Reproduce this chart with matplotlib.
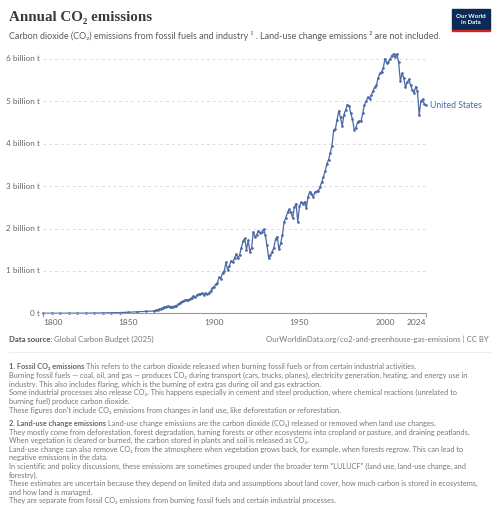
import matplotlib
matplotlib.use('Agg')
import matplotlib.pyplot as plt
from matplotlib.patches import Rectangle

plt.rcParams['font.family'] = ['Lato', 'DejaVu Sans']

# annual CO2 emissions of the United States, billion tonnes
years = [1800, 1805, 1810, 1815, 1820, 1825, 1830, 1835, 1840, 1845, 1850, 1855, 1860,
         1865, 1866, 1867, 1868, 1869] + list(range(1870, 2025))
emissions = [0.0003, 0.0005, 0.001, 0.0015, 0.002, 0.003, 0.005, 0.008, 0.012, 0.018, 0.025, 0.035, 0.045,
             0.055, 0.07, 0.08, 0.09, 0.11,
             # 1870s
             0.13, 0.15, 0.16, 0.17, 0.16, 0.16, 0.16, 0.17, 0.18, 0.21,
             # 1880s
             0.24, 0.27, 0.29, 0.31, 0.32, 0.32, 0.34, 0.37, 0.41, 0.38,
             # 1890s
             0.43, 0.45, 0.46, 0.47, 0.43, 0.47, 0.46, 0.48, 0.52, 0.59,
             # 1900s
             0.63, 0.68, 0.72, 0.85, 0.82, 0.95, 1.00, 1.20, 1.02, 1.12,
             # 1910s
             1.24, 1.20, 1.30, 1.40, 1.30, 1.38, 1.55, 1.70, 1.77, 1.50,
             # 1920s
             1.72, 1.45, 1.55, 1.92, 1.80, 1.85, 1.95, 1.90, 1.92, 1.98,
             # 1930s
             1.85, 1.60, 1.30, 1.38, 1.45, 1.55, 1.75, 1.81, 1.51, 1.65,
             # 1940s
             1.85, 2.15, 2.25, 2.38, 2.45, 2.38, 2.25, 2.50, 2.59, 2.16,
             # 1950s
             2.52, 2.62, 2.58, 2.63, 2.48, 2.75, 2.87, 2.82, 2.75, 2.85,
             # 1960s
             2.88, 2.88, 2.98, 3.10, 3.22, 3.35, 3.52, 3.62, 3.78, 3.95,
             # 1970s
             4.32, 4.35, 4.56, 4.78, 4.62, 4.42, 4.68, 4.80, 4.92, 4.90,
             # 1980s
             4.72, 4.58, 4.33, 4.38, 4.52, 4.54, 4.53, 4.72, 4.92, 5.00,
             # 1990s
             5.10, 5.06, 5.14, 5.25, 5.33, 5.38, 5.55, 5.66, 5.70, 5.78,
             # 2000s
             6.01, 5.90, 5.94, 5.99, 6.08, 6.12, 6.04, 6.12, 5.92, 5.48,
             # 2010s
             5.66, 5.55, 5.33, 5.45, 5.52, 5.38, 5.27, 5.20, 5.35, 5.24,
             # 2020s
             4.68, 5.00, 5.05, 4.93, 4.91]

y_ticks = [0, 1, 2, 3, 4, 5, 6]
y_labels = ['0 t', '1 billion t', '2 billion t', '3 billion t', '4 billion t', '5 billion t', '6 billion t']
x_ticks = [1800, 1850, 1900, 1950, 2000, 2024]

line_col = '#4a69a6'
grey = '#5b5b5b'

fig = plt.figure(figsize=(5, 5.17), dpi=100)
W, H = 500, 517
def fy(py):
    return 1 - py / H

ax = fig.add_axes([43 / W, fy(313.3), (426 - 43) / W, (313.3 - 52.6) / H])
ax.plot(years, emissions, color=line_col, lw=0.9, marker='o', ms=0.9, clip_on=False)
ax.set_xlim(1800, 2024)
ax.set_ylim(0, 6.15)
for s in ['top', 'right', 'left']:
    ax.spines[s].set_visible(False)
ax.spines['bottom'].set_color('#999999')
ax.spines['bottom'].set_linewidth(0.8)
ax.set_yticks(y_ticks[1:])
ax.yaxis.grid(True, ls=(0, (3, 3)), color='#dddddd', lw=0.7)
ax.set_yticklabels([])
ax.tick_params(axis='y', length=0)
for v, lab in zip(y_ticks, y_labels):
    ax.text(-0.008, v, lab, transform=ax.get_yaxis_transform(), ha='right', va='center',
            fontsize=5.9, color='#666666')
ax.set_xticks([1800, 2024])
ax.set_xticklabels([])
ax.tick_params(axis='x', length=3, color='#999999', width=0.7)
for x in x_ticks:
    ha = 'left' if x == 1800 else ('right' if x == 2024 else 'center')
    ax.text(x, -0.022, str(x), transform=ax.get_xaxis_transform(), ha=ha, va='top',
            fontsize=6.0, color='#666666')
ax.text(2026.5, emissions[-1], 'United States', ha='left', va='center', fontsize=6.2,
        color=line_col, clip_on=False)

# header
fig.text(9 / W, fy(18), 'Annual CO₂ emissions', fontsize=10.8, fontweight='bold',
         family=['Liberation Serif', 'DejaVu Serif'], color='#3a3a3a', va='center')
fig.text(9 / W, fy(36), 'Carbon dioxide (CO₂) emissions from fossil fuels and industry ¹ . '
         'Land-use change emissions ² are not included.', fontsize=6.5, color=grey, va='center')

# logo
fig.patches.append(Rectangle((452 / W, fy(30)), 38 / W, 21 / H, transform=fig.transFigure,
                             color='#0d2a56'))
fig.patches.append(Rectangle((452 / W, fy(31)), 38 / W, 1.2 / H, transform=fig.transFigure,
                             color='#ce261e'))
fig.text(471 / W, fy(19.5), 'Our World\nin Data', ha='center', va='center', fontsize=4.4,
         color='white', fontweight='bold', linespacing=1.0)

# source line
fig.canvas.draw()
r = fig.canvas.get_renderer()

def two_part(x, y, bold, rest, size, col_b, col_r):
    t = fig.text(x / W, fy(y), bold, fontsize=size, fontweight='bold', color=col_b, va='center')
    wpx = t.get_window_extent(renderer=r).width
    fig.text((x + wpx + 2) / W, fy(y), rest, fontsize=size, color=col_r, va='center')

two_part(9, 339, 'Data source:', 'Global Carbon Budget (2025)', 5.6, '#555555', '#777777')
fig.text(489 / W, fy(339), 'OurWorldinData.org/co2-and-greenhouse-gas-emissions | CC BY',
         ha='right', va='center', fontsize=5.6, color='#777777')
fig.add_artist(plt.Line2D([9 / W, 490 / W], [fy(352), fy(352)], color='#eeeeee', lw=0.8))

# footnotes
fs = 5.3
fcol = '#777777'
two_part(9, 367, '1. Fossil CO₂ emissions',
         'This refers to the carbon dioxide released when burning fossil fuels or from certain industrial activities.',
         fs, '#666666', fcol)
notes1 = [
    'Burning fossil fuels — coal, oil, and gas — produces CO₂ during transport (cars, trucks, planes), electricity generation, heating, and energy use in',
    'industry. This also includes flaring, which is the burning of extra gas during oil and gas extraction.',
    'Some industrial processes also release CO₂. This happens especially in cement and steel production, where chemical reactions (unrelated to',
    'burning fuel) produce carbon dioxide.',
    "These figures don't include CO₂ emissions from changes in land use, like deforestation or reforestation.",
]
for i, t in enumerate(notes1):
    fig.text(9 / W, fy(375.6 + 8.6 * i), t, fontsize=fs, color=fcol, va='center')

two_part(9, 423.5, '2. Land-use change emissions',
         'Land-use change emissions are the carbon dioxide (CO₂) released or removed when land use changes.',
         fs, '#666666', fcol)
notes2 = [
    'They mostly come from deforestation, forest degradation, turning forests or other ecosystems into cropland or pasture, and draining peatlands.',
    'When vegetation is cleared or burned, the carbon stored in plants and soil is released as CO₂.',
    'Land-use change can also remove CO₂ from the atmosphere when vegetation grows back, for example, when forests regrow. This can lead to',
    'negative emissions in the data.',
    'In scientific and policy discussions, these emissions are sometimes grouped under the broader term "LULUCF" (land use, land-use change, and',
    'forestry).',
    'These estimates are uncertain because they depend on limited data and assumptions about land cover, how much carbon is stored in ecosystems,',
    'and how land is managed.',
    'They are separate from fossil CO₂ emissions from burning fossil fuels and certain industrial processes.',
]
for i, t in enumerate(notes2):
    fig.text(9 / W, fy(432.1 + 8.6 * i), t, fontsize=fs, color=fcol, va='center')

fig.savefig('out.png', dpi=100, facecolor='white')
